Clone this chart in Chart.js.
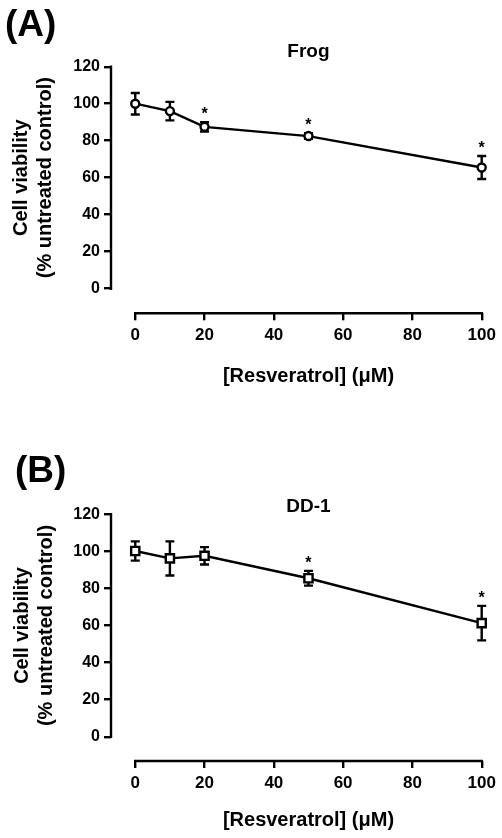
<!DOCTYPE html>
<html>
<head>
<meta charset="utf-8">
<script src="https://cdn.jsdelivr.net/npm/chart.js@4.4.0/dist/chart.umd.min.js"></script>
<style>
  html, body { margin: 0; padding: 0; background: #fff; }
  canvas { display: block; }
</style>
</head>
<body>
<canvas id="frogChart" width="502" height="420"></canvas>
<canvas id="ddChart" width="502" height="418"></canvas>
<script>
// Resveratrol doses (uM) and tick labels
const doses = [0, 10, 20, 50, 100];
const xTicks = [0, 20, 40, 60, 80, 100];
const yTicks = [0, 20, 40, 60, 80, 100, 120];

// (A) Frog cells: mean, error, significance
const frogMean = [100, 96, 87.5, 82.5, 65.5];
const frogErr = [5.8, 5, 2.5, 1.5, 6.2];
const frogSig = [false, false, true, true, true];

// (B) DD-1 cells
const ddMean = [100.2, 96.2, 97.6, 85.5, 61.3];
const ddErr = [5.2, 9.2, 4.7, 4, 9.3];
const ddSig = [false, false, false, true, true];

const FONT = '"Liberation Sans", Arial, Helvetica, sans-serif';
const LW = 2.4;

function makePanel(canvasId, p) {
  // axes, error bars, asterisks and titles drawn on top of the line chart
  const prism = {
    id: 'prism',
    beforeDatasetsDraw(chart) {
      const { ctx, chartArea, scales: { x, y } } = chart;
      ctx.save();
      ctx.strokeStyle = '#000';
      ctx.lineWidth = LW;
      ctx.lineCap = 'square';
      ctx.beginPath();
      ctx.moveTo(chartArea.left, y.getPixelForValue(yTicks[0]));
      ctx.lineTo(chartArea.left, y.getPixelForValue(yTicks[yTicks.length - 1]));
      ctx.moveTo(x.getPixelForValue(xTicks[0]), chartArea.bottom);
      ctx.lineTo(x.getPixelForValue(xTicks[xTicks.length - 1]), chartArea.bottom);
      ctx.stroke();

      ctx.lineCap = 'butt';
      p.mean.forEach((m, i) => {
        const px = x.getPixelForValue(doses[i]);
        const top = y.getPixelForValue(m + p.err[i]);
        const bot = y.getPixelForValue(m - p.err[i]);
        ctx.beginPath();
        ctx.moveTo(px, top); ctx.lineTo(px, bot);
        ctx.moveTo(px - 4.5, top); ctx.lineTo(px + 4.5, top);
        ctx.moveTo(px - 4.5, bot); ctx.lineTo(px + 4.5, bot);
        ctx.stroke();
      });
      ctx.restore();
    },
    afterDraw(chart) {
      const { ctx, scales: { x, y } } = chart;
      ctx.save();
      ctx.fillStyle = '#000';

      // significance stars
      ctx.font = 'bold 16px ' + FONT;
      ctx.textAlign = 'center';
      ctx.textBaseline = 'middle';
      p.sig.forEach((s, i) => {
        if (!s) return;
        const px = x.getPixelForValue(doses[i]);
        const top = y.getPixelForValue(p.mean[i] + p.err[i]);
        ctx.fillText('*', px, top - 7.5);
      });

      const xMid = (x.getPixelForValue(xTicks[0]) + x.getPixelForValue(xTicks[xTicks.length - 1])) / 2;
      const yMid = (y.getPixelForValue(yTicks[0]) + y.getPixelForValue(yTicks[yTicks.length - 1])) / 2;

      // panel letter
      ctx.font = 'bold 37px ' + FONT;
      ctx.textAlign = 'left';
      ctx.fillText(p.letter, p.letterX, p.letterY);

      // chart title
      ctx.font = 'bold 19px ' + FONT;
      ctx.textAlign = 'center';
      ctx.fillText(p.title, xMid, p.titleY);

      // x title
      ctx.font = 'bold 20px ' + FONT;
      ctx.fillText('[Resveratrol] (\u03bcM)', xMid, p.xTitleY);

      // y title, two lines
      ctx.font = 'bold 20px ' + FONT;
      ['Cell viability', '(% untreated control)'].forEach((t, i) => {
        ctx.save();
        ctx.translate(p.yTitleX[i], yMid);
        ctx.rotate(-Math.PI / 2);
        ctx.fillText(t, 0, 0);
        ctx.restore();
      });
      ctx.restore();
    }
  };

  return new Chart(document.getElementById(canvasId), {
    type: 'line',
    data: {
      datasets: [{
        data: doses.map((d, i) => ({ x: d, y: p.mean[i] })),
        borderColor: '#000',
        borderWidth: LW,
        tension: 0,
        pointStyle: p.style,
        pointRadius: p.radius,
        pointBackgroundColor: '#fff',
        pointBorderColor: '#000',
        pointBorderWidth: LW,
        clip: false
      }]
    },
    options: {
      responsive: false,
      animation: false,
      events: [],
      layout: { padding: { top: p.top, right: 20.3, left: 0, bottom: 0 } },
      plugins: { legend: { display: false }, tooltip: { enabled: false } },
      scales: {
        x: {
          type: 'linear',
          min: -7,
          max: 100,
          afterFit: s => { s.height = p.xAxisHeight; },
          afterBuildTicks: s => { s.ticks = xTicks.map(v => ({ value: v })); },
          grid: { drawOnChartArea: false, drawTicks: true, tickLength: 7, color: '#000', lineWidth: LW },
          border: { display: false },
          ticks: { color: '#000', font: { family: FONT, size: 17, weight: 'bold' }, padding: 5, maxRotation: 0, autoSkip: false }
        },
        y: {
          type: 'linear',
          min: p.yMin,
          max: 120,
          afterFit: s => { s.width = 111; },
          afterBuildTicks: s => { s.ticks = yTicks.map(v => ({ value: v })); },
          grid: { drawOnChartArea: false, drawTicks: true, tickLength: 7, color: '#000', lineWidth: LW },
          border: { display: false },
          ticks: { color: '#000', font: { family: FONT, size: 16, weight: 'bold' }, padding: 4, autoSkip: false }
        }
      }
    },
    plugins: [prism]
  });
}

makePanel('frogChart', {
  mean: frogMean, err: frogErr, sig: frogSig,
  letter: '(A)', letterX: 5, letterY: 26,
  title: 'Frog', titleY: 51.7,
  top: 66.7, xAxisHeight: 106.7, yMin: -13.3,
  xTitleY: 376, yTitleX: [21, 45],
  style: 'circle', radius: 4
});

makePanel('ddChart', {
  mean: ddMean, err: ddErr, sig: ddSig,
  letter: '(B)', letterX: 15, letterY: 51.7,
  title: 'DD-1', titleY: 86.3,
  top: 94.3, xAxisHeight: 77, yMin: -13.1,
  xTitleY: 400, yTitleX: [22.5, 46],
  style: 'rect', radius: 5.8
});
</script>
</body>
</html>
